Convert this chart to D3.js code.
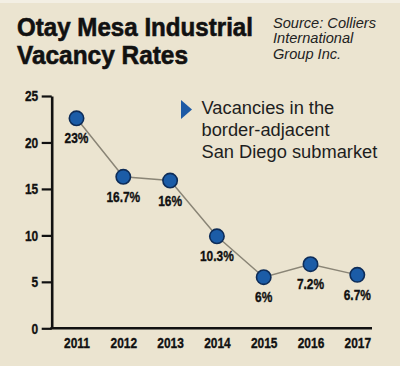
<!DOCTYPE html>
<html>
<head>
<meta charset="utf-8">
<script src="https://cdn.jsdelivr.net/npm/d3@7"></script>
<style>
  html, body { margin: 0; padding: 0; background: #ebe4d0; }
  svg { display: block; }
</style>
</head>
<body>
<script>
const years = ["2011", "2012", "2013", "2014", "2015", "2016", "2017"];
const values = [22.6, 16.3, 15.9, 9.9, 5.5, 6.9, 5.75];
const pointLabels = ["23%", "16.7%", "16%", "10.3%", "6%", "7.2%", "6.7%"];
const yTicks = [0, 5, 10, 15, 20, 25];
const titleLines = ["Otay Mesa Industrial", "Vacancy Rates"];
const sourceLines = ["Source: Colliers", "International", "Group Inc."];
const noteLines = ["Vacancies in the", "border-adjacent", "San Diego submarket"];

const W = 400, H = 366;
const sans = "'Liberation Sans', Arial, sans-serif";
const SX = 0.77; // horizontal condensing for bold labels
const LFS = 15.5;

const svg = d3.select("body").append("svg").attr("width", W).attr("height", H);
svg.append("rect").attr("width", W).attr("height", H).attr("fill", "#ebe4d0");
svg.append("rect").attr("width", W).attr("height", 3).attr("fill", "#f3efe4");

// Title
const titleWidths = [236, 171];
svg.append("g").selectAll("text").data(titleLines).join("text")
  .attr("x", 17).attr("y", (d, i) => 36 + i * 28)
  .attr("font-family", sans).attr("font-weight", "bold").attr("font-size", 26)
  .attr("fill", "#111").attr("stroke", "#111").attr("stroke-width", 0.6)
  .attr("textLength", (d, i) => titleWidths[i]).attr("lengthAdjust", "spacingAndGlyphs")
  .text(d => d);

// Source
svg.append("g").selectAll("text").data(sourceLines).join("text")
  .attr("x", 273).attr("y", (d, i) => 28 + i * 15.3)
  .attr("font-family", sans).attr("font-style", "italic")
  .attr("font-size", 14.6).attr("fill", "#222")
  .text(d => d);

// Scales
const x = d3.scalePoint().domain(years).range([76.5, 357.3]);
const y = d3.scaleLinear().domain([0, 25]).range([328.3, 96]);
const axisX0 = 51.7, axisX1 = 372;

// Y axis
const yAxis = svg.append("g").attr("transform", `translate(${axisX0},0)`)
  .call(d3.axisLeft(y).tickValues(yTicks).tickSize(10).tickSizeOuter(0).tickPadding(3));
yAxis.select(".domain").attr("stroke", "#111").attr("stroke-width", 2.6);
yAxis.selectAll(".tick line").attr("stroke", "#111").attr("stroke-width", 2.2);
yAxis.selectAll(".tick text")
  .attr("x", -13.5 / SX)
  .attr("transform", `scale(${SX},1)`)
  .attr("font-family", sans).attr("font-weight", "bold")
  .attr("font-size", LFS).attr("fill", "#111")
  .attr("stroke", "#111").attr("stroke-width", 0.35);

// X axis
const xAxis = svg.append("g").attr("transform", `translate(0,${y(0)})`)
  .call(d3.axisBottom(x).tickSize(0).tickPadding(9));
xAxis.select(".domain").remove();
xAxis.append("line").attr("x1", axisX0 - 1.3).attr("x2", axisX1)
  .attr("stroke", "#111").attr("stroke-width", 2.6);
xAxis.selectAll(".tick text")
  .attr("transform", `scale(${SX},1)`)
  .attr("font-family", sans).attr("font-weight", "bold")
  .attr("font-size", LFS).attr("fill", "#111")
  .attr("stroke", "#111").attr("stroke-width", 0.35);

// Line
const pts = years.map((yr, i) => [x(yr), y(values[i])]);
svg.append("path").attr("d", d3.line()(pts))
  .attr("fill", "none").attr("stroke", "#8a8576").attr("stroke-width", 1.5);

// Points
svg.append("g").selectAll("circle").data(pts).join("circle")
  .attr("cx", d => d[0]).attr("cy", d => d[1]).attr("r", 7.2)
  .attr("fill", "#1b5ca7").attr("stroke", "#0d2c58").attr("stroke-width", 1.6);

// Point labels
svg.append("g").selectAll("g").data(pts).join("g")
  .attr("transform", d => `translate(${d[0]},${d[1] + 25}) scale(${SX},1)`)
  .append("text")
  .attr("text-anchor", "middle")
  .attr("font-family", sans).attr("font-weight", "bold").attr("font-size", LFS)
  .attr("fill", "#111").attr("stroke", "#111").attr("stroke-width", 0.35)
  .text((d, i) => pointLabels[i]);

// Note
svg.append("path").attr("d", "M181,100 L181,119 L192,109.5 Z").attr("fill", "#1d5aa5");
svg.append("g").selectAll("text").data(noteLines).join("text")
  .attr("x", 201.5).attr("y", (d, i) => 114 + i * 21.8)
  .attr("font-family", sans).attr("font-size", 18.3)
  .attr("fill", "#1e1e1e")
  .text(d => d);
</script>
</body>
</html>
